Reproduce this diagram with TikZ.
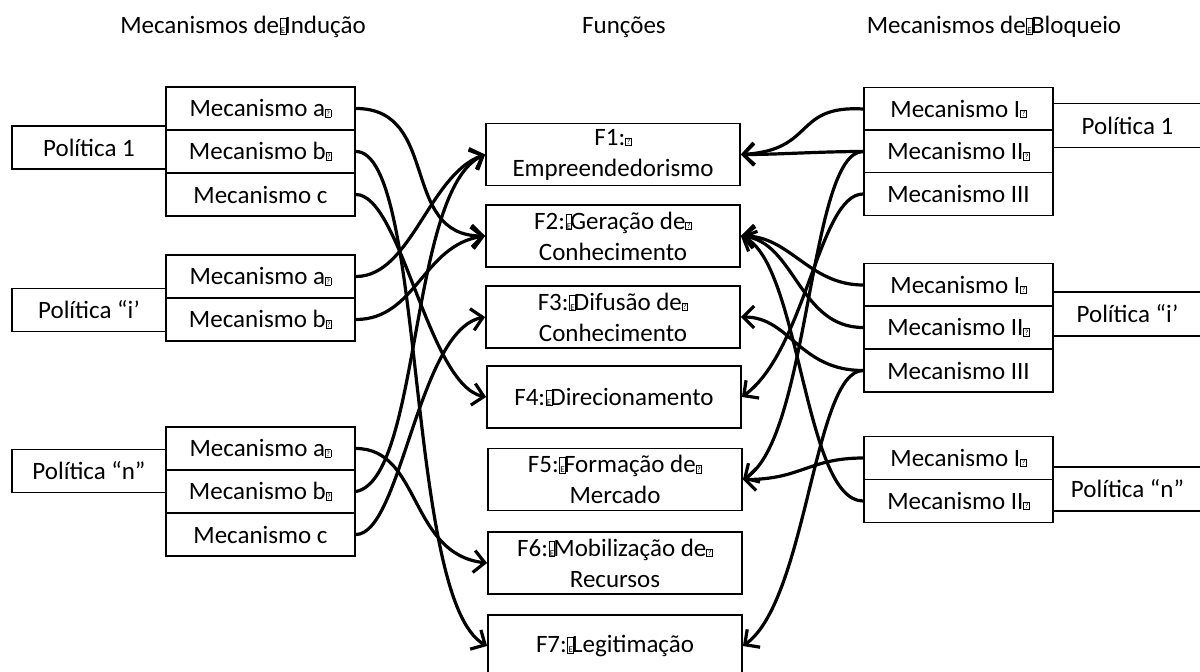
\documentclass[tikz,border=0pt]{standalone}
\usepackage{fontspec}
\setmainfont{Carlito}
\usetikzlibrary{arrows.meta}
% placeholder glyph boxes as they appear in the labels
\newcommand\tofu{{\setlength\fboxsep{0.5pt}\setlength\fboxrule{0.8pt}\raisebox{0.5pt}{\fbox{\fontsize{8}{8}\selectfont ?}}}}
\newcommand\tofuE{\kern0.5pt{\setlength\fboxsep{0.3pt}\setlength\fboxrule{0.9pt}\fbox{\fontsize{9}{9}\selectfont\rule{0pt}{14pt}E}}\kern-2pt}
\tikzset{
  base/.style={draw, line width=1.8pt, inner sep=0pt, fill=white,
    font=\fontsize{25}{31}\selectfont, align=center},
  mech/.style={base, minimum width=189pt, minimum height=43pt},
  pol/.style={base, minimum width=154pt, minimum height=43pt},
  polr/.style={base, minimum width=149pt, minimum height=44pt},
  fun/.style={base, minimum width=254pt, minimum height=62pt},
  title/.style={font=\fontsize{25}{31}\selectfont},
  link/.style={line width=3.2pt, -{Straight Barb[length=11pt,width=22pt]}}
}
\begin{document}
\begin{tikzpicture}[x=1pt, y=-1pt]
\useasboundingbox (0,0) rectangle (1200,672);

% column headings
\node[title] (hInd) at (243,27) {Mecanismos de\tofuE Indução};
\node[title] (hFun) at (624,27) {Funções};
\node[title] (hBlq) at (994,27) {Mecanismos de\tofuE Bloqueio};

% inducement side
\node[pol]  (P1)  at (89,147.5) {Política 1};
\node[mech] (L1a) at (260.5,108.5) {Mecanismo a\tofu};
\node[mech] (L1b) at (260.5,151.5) {Mecanismo b\tofu};
\node[mech] (L1c) at (260.5,194.5) {Mecanismo c};

\node[pol]  (Pi)  at (89,310) {Política “i’};
\node[mech] (Lia) at (260.5,276.5) {Mecanismo a\tofu};
\node[mech] (Lib) at (260.5,319.5) {Mecanismo b\tofu};

\node[pol]  (Pn)  at (89,471) {Política “n”};
\node[mech] (Lna) at (260.5,448.5) {Mecanismo a\tofu};
\node[mech] (Lnb) at (260.5,491.5) {Mecanismo b\tofu};
\node[mech] (Lnc) at (260.5,534.5) {Mecanismo c};

% functions
\node[fun] (F1) at (613,154.5) {F1:\tofu\\Empreendedorismo};
\node[fun] (F2) at (613,236)   {F2:\tofuE Geração de\tofu\\Conhecimento};
\node[fun] (F3) at (613,317)   {F3:\tofuE Difusão de\tofu\\Conhecimento};
\node[fun] (F4) at (614,397)   {F4:\tofuE Direcionamento};
\node[fun] (F5) at (615,479.5) {F5:\tofuE Formação de\tofu\\Mercado};
\node[fun] (F6) at (615,563)   {F6:\tofuE Mobilização de\tofu\\Recursos};
\node[fun] (F7) at (615,646)   {F7:\tofuE Legitimação};

% blocking side
\node[polr] (Q1)  at (1127.5,125.5) {Política 1};
\node[mech] (R1a) at (958.5,109)   {Mecanismo I\tofu};
\node[mech] (R1b) at (958.5,151.5) {Mecanismo II\tofu};
\node[mech] (R1c) at (958.5,194)   {Mecanismo III};

\node[polr] (Qi)  at (1127.5,314) {Política “i’};
\node[mech] (Ria) at (958.5,285)   {Mecanismo I\tofu};
\node[mech] (Rib) at (958.5,327.5) {Mecanismo II\tofu};
\node[mech] (Ric) at (958.5,370.5) {Mecanismo III};

\node[polr] (Qn)  at (1127.5,489) {Política “n”};
\node[mech] (Rna) at (958.5,458)   {Mecanismo I\tofu};
\node[mech] (Rnb) at (958.5,501)   {Mecanismo II\tofu};

% inducement links
\draw[link] (L1a.east) .. controls +(85,0) and +(-86,0) .. (F2.west);
\draw[link] (L1b.east) .. controls +(70,0) and +(-82,-46) .. (F7.west);
\draw[link] (L1c.east) .. controls +(45,0) and +(-58,-12) .. (F4.west);
\draw[link] (Lia.east) .. controls +(55,0) and +(-56,20) .. (F1.west);
\draw[link] (Lib.east) .. controls +(60,0) and +(-62,9) .. (F2.west);
\draw[link] (Lna.east) .. controls +(65,0) and +(-78,-9) .. (F6.west);
\draw[link] (Lnb.east) .. controls +(65,-12) and +(-76,35) .. (F1.west);
\draw[link] (Lnc.east) .. controls +(45,0) and +(-67,13) .. (F3.west);

% blocking links
\draw[link] (R1a.west) .. controls +(-70,-4) and +(75,-4.5) .. (F1.east);
\draw[link] (R1b.west) .. controls +(-44,0) and +(40,0) .. (F1.east);
\draw[link] (R1b.west) .. controls +(-54,0) and +(67,-41) .. (F5.east);
\draw[link] (R1c.west) .. controls +(-44,0) and +(64,-47) .. (F4.east);
\draw[link] (Ria.west) .. controls +(-54,0) and +(49,0) .. (F2.east);
\draw[link] (Rib.west) .. controls +(-64,0) and +(54,6) .. (F2.east);
\draw[link] (Ric.west) .. controls +(-64,0) and +(49,0) .. (F3.east);
\draw[link] (Ric.west) .. controls +(-49,0) and +(64,-46) .. (F7.east);
\draw[link] (Rna.west) .. controls +(-54,0) and +(58,0) .. (F5.east);
\draw[link] (Rnb.west) .. controls +(-59,0) and +(59,26) .. (F2.east);
\end{tikzpicture}
\end{document}
